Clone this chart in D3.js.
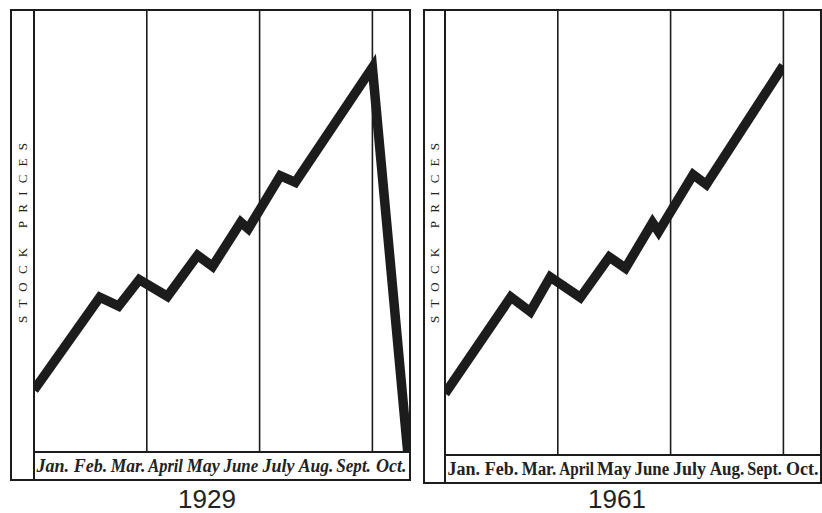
<!DOCTYPE html>
<html>
<head>
<meta charset="utf-8">
<script src="https://cdn.jsdelivr.net/npm/d3@7"></script>
<style>
  body { margin: 0; background: #fff; }
  svg { display: block; }
</style>
</head>
<body>
<div id="chart"></div>
<script>
const width = 822;
const height = 513;

// month labels along the bottom strip
const monthLabels = ["Jan.", "Feb.", "Mar.", "April", "May", "June", "July", "Aug.", "Sept.", "Oct."];
// vertical rules between quarters (month boundaries)
const gridMonths = [3, 6, 9];

// 1929 - position in months from start of Jan, and price level (0-100)
const t1929 = [0, 1.75, 2.25, 2.8, 3.55, 4.35, 4.75, 5.5, 5.7, 6.55, 6.95, 9, 9.95];
const p1929 = [14, 35, 33, 39, 35.2, 44.5, 42, 52, 50.5, 62.5, 61, 87, -1];

// 1961 - same pattern, stops at the end of September
const t1961 = [0, 1.75, 2.27, 2.8, 3.6, 4.37, 4.8, 5.52, 5.68, 6.6, 6.95, 9];
const p1961 = [13.8, 35.5, 32.2, 40, 35.4, 44.5, 42, 52.2, 50.2, 63, 60.8, 87.5];

const years = ["1929", "1961"];

const ink = "#1c1c1c";

const svg = d3.select("#chart")
  .append("svg")
  .attr("width", width)
  .attr("height", height);

// panel frames (layout only)
const panels = [
  {outer: 11, inner: 34, right: 410, top: 10, plotBottom: 452, bottom: 480, t: t1929, p: p1929, year: years[0], italic: true, yearX: 207},
  {outer: 424, inner: 445, right: 821, top: 10, plotBottom: 455, bottom: 483, t: t1961, p: p1961, year: years[1], italic: false, yearX: 617}
];

panels.forEach(function(pn, k) {
  const g = svg.append("g");

  const x = d3.scaleLinear()
    .domain([0, monthLabels.length])
    .range([pn.inner, pn.right]);
  const y = d3.scaleLinear()
    .domain([0, 100])
    .range([pn.plotBottom, pn.top]);

  // clip the price line to the plot area (and to its last full month)
  const clipEnd = Math.ceil(d3.max(pn.t));
  g.append("clipPath")
    .attr("id", "clip" + k)
    .append("rect")
    .attr("x", x(0))
    .attr("y", pn.top)
    .attr("width", x(clipEnd) - x(0))
    .attr("height", pn.plotBottom - pn.top + 1);

  // grid lines
  g.selectAll(".grid")
    .data(gridMonths)
    .join("line")
    .attr("x1", d => x(d))
    .attr("x2", d => x(d))
    .attr("y1", pn.top)
    .attr("y2", pn.plotBottom)
    .style("stroke", ink)
    .style("stroke-width", 1.6);

  // price line
  const pts = pn.t.map((d, i) => [d, pn.p[i]]);
  g.append("path")
    .datum(pts)
    .attr("clip-path", "url(#clip" + k + ")")
    .attr("d", d3.line().x(d => x(d[0])).y(d => y(d[1])))
    .style("fill", "none")
    .style("stroke", ink)
    .style("stroke-width", 9.5)
    .style("stroke-linejoin", "miter")
    .style("stroke-miterlimit", 6);

  // frame: outer box, inner left rule, label strip
  g.append("rect")
    .attr("x", pn.outer)
    .attr("y", pn.top)
    .attr("width", pn.right - pn.outer)
    .attr("height", pn.bottom - pn.top)
    .style("fill", "none")
    .style("stroke", ink)
    .style("stroke-width", 2);
  g.append("line")
    .attr("x1", pn.inner).attr("x2", pn.inner)
    .attr("y1", pn.top).attr("y2", pn.bottom)
    .style("stroke", ink)
    .style("stroke-width", 2);
  g.append("line")
    .attr("x1", pn.inner).attr("x2", pn.right)
    .attr("y1", pn.plotBottom).attr("y2", pn.plotBottom)
    .style("stroke", ink)
    .style("stroke-width", 2);

  // month labels, squeezed to fit each month's band
  const band = x(1) - x(0);
  g.selectAll(".month")
    .data(monthLabels)
    .join("text")
    .attr("x", (d, i) => x(i + 0.5))
    .attr("y", pn.bottom - 8)
    .attr("text-anchor", "middle")
    .style("font-family", "'Liberation Serif', 'DejaVu Serif', serif")
    .style("font-weight", "bold")
    .style("font-style", pn.italic ? "italic" : "normal")
    .style("font-size", "18px")
    .style("fill", "#222")
    .text(d => d)
    .each(function() {
      const w = this.getComputedTextLength();
      if (w > band - 3) {
        d3.select(this)
          .attr("textLength", band - 3)
          .attr("lengthAdjust", "spacingAndGlyphs");
      }
    });

  // y label
  const cx = (pn.outer + pn.inner) / 2 + 4;
  const cy = 233;
  g.append("text")
    .attr("transform", `translate(${cx},${cy}) rotate(-90)`)
    .attr("text-anchor", "middle")
    .attr("textLength", 180)
    .attr("lengthAdjust", "spacing")
    .style("font-family", "'Liberation Serif', 'DejaVu Serif', serif")
    .style("font-size", "13px")
    .style("fill", "#222")
    .text("STOCK PRICES");

  // year
  g.append("text")
    .attr("x", pn.yearX)
    .attr("y", 508)
    .attr("text-anchor", "middle")
    .style("font-family", "'Liberation Sans', Arial, sans-serif")
    .style("font-size", "26px")
    .style("fill", "#222")
    .text(pn.year);
});
</script>
</body>
</html>
